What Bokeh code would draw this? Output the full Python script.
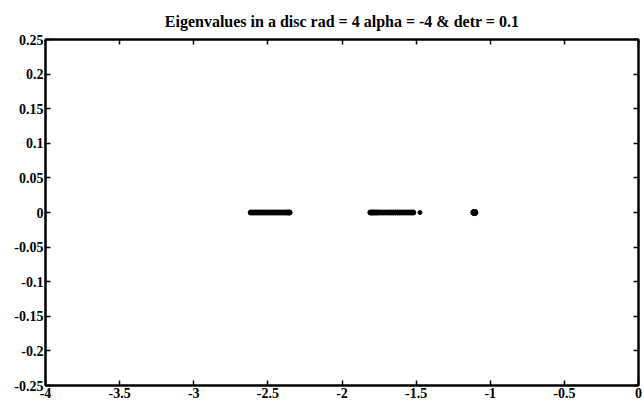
from bokeh.plotting import figure
from bokeh.models import LinearAxis, FixedTicker, ColumnDataSource, Range1d
from bokeh.embed import file_html
from bokeh.resources import INLINE

# Real parts of the computed eigenvalues (all imaginary parts are zero)
cluster_a = [-2.616, -2.603, -2.590, -2.577, -2.564, -2.551, -2.538, -2.525,
             -2.512, -2.499, -2.486, -2.473, -2.460, -2.447, -2.434, -2.421,
             -2.408, -2.395, -2.382, -2.369, -2.360, -2.353]
cluster_b = [-1.809, -1.800, -1.791, -1.782, -1.772, -1.762, -1.750, -1.737,
             -1.723, -1.709, -1.695, -1.681, -1.667, -1.653, -1.639, -1.625,
             -1.611, -1.597, -1.583, -1.569, -1.555, -1.541, -1.530, -1.519]
isolated = [-1.474]
cluster_c = [-1.111, -1.107, -1.103]

x_ticks = [-4, -3.5, -3, -2.5, -2, -1.5, -1, -0.5, 0]
x_tick_labels = ["-4", "-3.5", "-3", "-2.5", "-2", "-1.5", "-1", "-0.5", "0"]
y_ticks = [0.25, 0.2, 0.15, 0.1, 0.05, 0, -0.05, -0.1, -0.15, -0.2, -0.25]
y_tick_labels = ["0.25", "0.2", "0.15", "0.1", "0.05", "0", "-0.05", "-0.1",
                 "-0.15", "-0.2", "-0.25"]

title_text = "Eigenvalues in a disc rad = 4 alpha = -4 & detr = 0.1"

FONT = "Liberation Serif"

p = figure(width=644, height=411, output_backend="svg", toolbar_location=None,
           x_range=Range1d(-4, 0), y_range=Range1d(-0.25, 0.25),
           x_axis_location=None, y_axis_location=None,
           min_border_left=45, min_border_right=6, min_border_top=39,
           min_border_bottom=26)

p.title.text = title_text
p.title.text_font = FONT
p.title.text_font_style = "bold"
p.title.text_font_size = "16px"
p.title.text_color = "black"
p.title.align = "center"
p.title.offset = 0
p.title.standoff = 19

p.background_fill_color = "white"
p.border_fill_color = "white"
p.outline_line_color = "black"
p.outline_line_width = 2
p.grid.visible = False


def make_axis(ticks, labels, show_labels):
    ax = LinearAxis(ticker=FixedTicker(ticks=ticks))
    ax.major_label_overrides = {t: l for t, l in zip(ticks, labels)}
    ax.axis_line_color = "black"
    ax.axis_line_width = 2
    ax.major_tick_in = 5
    ax.major_tick_out = 0
    ax.major_tick_line_width = 1.5
    ax.minor_tick_line_color = None
    ax.major_label_text_font = FONT
    ax.major_label_text_font_style = "bold"
    ax.major_label_text_font_size = "14px"
    ax.major_label_text_color = "black"
    ax.major_label_standoff = 2
    if not show_labels:
        ax.major_label_text_alpha = 0
        ax.major_label_text_font_size = "1px"
        ax.major_label_standoff = 0
    return ax


p.add_layout(make_axis(x_ticks, x_tick_labels, True), "below")
p.add_layout(make_axis(y_ticks, y_tick_labels, True), "left")
p.add_layout(make_axis(x_ticks, x_tick_labels, False), "above")
p.add_layout(make_axis(y_ticks, y_tick_labels, False), "right")

for xs, size in [(cluster_a, 5), (cluster_b, 5), (isolated, 4), (cluster_c, 6)]:
    src = ColumnDataSource(dict(x=xs, y=[0.0] * len(xs)))
    p.scatter("x", "y", source=src, size=size, color="black", marker="circle")

open("out.html", "w").write(file_html(p, INLINE))
